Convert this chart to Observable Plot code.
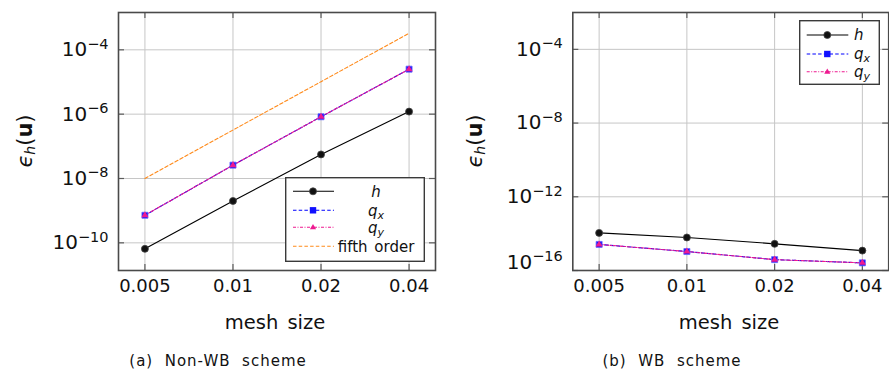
<!DOCTYPE html>
<html><head><meta charset="utf-8">
<script src="https://cdn.jsdelivr.net/npm/d3@7"></script>
<script src="https://cdn.jsdelivr.net/npm/@observablehq/plot@0.6"></script>
<style>
body{margin:0;background:#fff;font-family:"DejaVu Sans",sans-serif;}
#wrap{position:relative;width:889px;height:370px;overflow:hidden;background:#fff;}
.panel{position:absolute;top:0;}
.ylab{position:absolute;font-size:21px;transform:translate(-50%,-50%) rotate(-90deg);white-space:nowrap;color:#111;}
.xlab{position:absolute;font-size:19.5px;transform:translate(-50%,-50%);white-space:pre;word-spacing:3px;color:#111;}
.cap{position:absolute;font-size:15px;letter-spacing:1px;transform:translate(-50%,-50%);white-space:pre;color:#111;}
.legend{position:absolute;}
</style>
</head><body>
<div id="wrap"></div>
<script>
// ---------------- data ----------------
const meshSize = [0.005, 0.01, 0.02, 0.04];
const xTickLabels = ["0.005", "0.01", "0.02", "0.04"];

// (a) Non-WB scheme
const nonWB_h  = [6.5e-11, 2.0e-9, 5.6e-8, 1.2e-6];
const nonWB_qx = [7.2e-10, 2.6e-8, 8.3e-7, 2.5e-5];
const nonWB_qy = [7.2e-10, 2.6e-8, 8.3e-7, 2.5e-5];
const fifthOrder = [1.0e-8, 3.2e-7, 1.024e-5, 3.28e-4];

// (b) WB scheme
const WB_h  = [1.1e-14, 6.2e-15, 2.8e-15, 1.2e-15];
const WB_qx = [2.6e-15, 1.07e-15, 3.9e-16, 2.6e-16];
const WB_qy = [2.6e-15, 1.07e-15, 3.9e-16, 2.6e-16];

const yTicksA = [1e-10, 1e-8, 1e-6, 1e-4];
const yTickLabelsA = ["10^−10", "10^−8", "10^−6", "10^−4"];
const yTicksB = [1e-16, 1e-12, 1e-8, 1e-4];
const yTickLabelsB = ["10^−16", "10^−12", "10^−8", "10^−4"];

const seriesNames = ["h", "qx", "qy", "fifth order"];
const captions = ["(a)  Non-WB  scheme", "(b)  WB  scheme"];

// ---------------- styles ----------------
const styles = {
  "h":  {stroke: "#000000", dash: null, symbol: "circle", fill: "#111", r: 3.5},
  "qx": {stroke: "#0000ff", dash: "3.5,2.2", symbol: "square", fill: "#1010ff", r: 3.4},
  "qy": {stroke: "#ee1a90", dash: "3,1.5,1,1.5", symbol: "triangle", fill: "#ee1a90", r: 2.6},
  "fifth order": {stroke: "#ff8a1a", dash: "3.5,2.2", symbol: null}
};

const xDomain = [0.004061, 0.04925];
const H = 300, MT = 12, MB = 30;

function rows(vals, name) {
  return meshSize.map((x, i) => ({x, y: vals[i], series: name}));
}

function makePanel({width, marginLeft, marginRight, yDomain, yTicks, yTickLabels, data, bottomLabelShift}) {
  const fh = H - MT - MB;
  const fw = width - marginLeft - marginRight;
  const tickCol = "#5c5c5c";
  const marks = [
    Plot.gridX({ticks: meshSize, stroke: "#c6c6c6", strokeOpacity: 1, strokeWidth: 1}),
    Plot.gridY({ticks: yTicks, stroke: "#c6c6c6", strokeOpacity: 1, strokeWidth: 1}),
    Plot.ruleX(meshSize, {stroke: tickCol, strokeWidth: 1.2, insetTop: fh - 6}),
    Plot.ruleX(meshSize, {stroke: tickCol, strokeWidth: 1.2, insetBottom: fh - 6}),
    Plot.ruleY(yTicks, {stroke: tickCol, strokeWidth: 1.2, insetRight: fw - 6}),
    Plot.ruleY(yTicks, {stroke: tickCol, strokeWidth: 1.2, insetLeft: fw - 6})
  ];
  const order = ["fifth order", "h", "qx", "qy"];
  for (const name of order) {
    const d = data.filter(r => r.series === name);
    if (!d.length) continue;
    const s = styles[name];
    marks.push(Plot.line(d, {x: "x", y: "y", stroke: s.stroke, strokeWidth: 1.1,
      strokeDasharray: s.dash || undefined}));
  }
  for (const name of order) {
    const d = data.filter(r => r.series === name);
    if (!d.length) continue;
    const s = styles[name];
    if (!s.symbol) continue;
    marks.push(Plot.dot(d, {x: "x", y: "y", symbol: s.symbol, r: s.r, fill: s.fill,
      stroke: name === "h" ? "#444" : (name === "qx" ? "#6a6aff" : "none"), strokeWidth: 0.8}));
  }
  marks.push(Plot.frame({stroke: "#4a4a4a", strokeWidth: 1.6}));
  marks.push(Plot.axisX({ticks: meshSize, tickSize: 0, tickPadding: 9, fontSize: 18,
    tickFormat: d => xTickLabels[meshSize.indexOf(d)], label: null, fill: "#111"}));
  marks.push(Plot.axisY({ticks: yTicks, tickSize: 0, tickPadding: 10, fontSize: 20,
    tickFormat: d => yTickLabels[yTicks.indexOf(d)], label: null, fill: "#111"}));

  const svg = Plot.plot({
    width, height: H, marginLeft, marginRight, marginTop: MT, marginBottom: MB,
    style: {fontFamily: "DejaVu Sans", background: "transparent", overflow: "visible"},
    x: {type: "log", domain: xDomain},
    y: {type: "log", domain: yDomain},
    marks
  });
  const ns = "http://www.w3.org/2000/svg";
  svg.querySelectorAll('g[aria-label="y-axis tick label"] text').forEach(t => {
    const txt = t.textContent;
    const [base, exp] = txt.split("^");
    while (t.firstChild) t.removeChild(t.firstChild);
    const a = document.createElementNS(ns, "tspan");
    a.textContent = base;
    const b = document.createElementNS(ns, "tspan");
    b.textContent = exp;
    b.setAttribute("font-size", "14.5");
    b.setAttribute("dy", "-7.5");
    t.append(a, b);
    // the lowest label sits slightly raised above the frame bottom in the original
    if (bottomLabelShift && txt === yTickLabels[0]) {
      const tr = t.getAttribute("transform") || "";
      t.setAttribute("transform", `${tr} translate(0,${-bottomLabelShift})`.trim());
    }
  });
  return svg;
}

const wrap = document.getElementById("wrap");

const dataA = [...rows(nonWB_h, "h"), ...rows(nonWB_qx, "qx"), ...rows(nonWB_qy, "qy"), ...rows(fifthOrder, "fifth order")];
const dataB = [...rows(WB_h, "h"), ...rows(WB_qx, "qx"), ...rows(WB_qy, "qy")];

const pA = makePanel({width: 445, marginLeft: 118, marginRight: 10,
  yDomain: [Math.pow(10, -10.86), Math.pow(10, -2.84)], yTicks: yTicksA, yTickLabels: yTickLabelsA, data: dataA});
pA.classList.add("panel"); pA.style.left = "0px";
wrap.appendChild(pA);

const pB = makePanel({width: 439, marginLeft: 122.3, marginRight: 0.8,
  yDomain: [1e-16, 1e-2], yTicks: yTicksB, yTickLabels: yTickLabelsB, data: dataB, bottomLabelShift: 8});
pB.classList.add("panel"); pB.style.left = "450px";
wrap.appendChild(pB);

function addDiv(cls, html, x, y) {
  const d = document.createElement("div");
  d.className = cls; d.innerHTML = html;
  d.style.left = x + "px"; d.style.top = y + "px";
  wrap.appendChild(d);
}
const yLabelHTML = '<i>ϵ</i><sub style="font-size:14px;vertical-align:-3px"><i>h</i></sub>(<b>u</b>)';
addDiv("ylab", yLabelHTML, 25, 141);
addDiv("ylab", yLabelHTML, 475, 141);
addDiv("xlab", "mesh size", 275, 322);
addDiv("xlab", "mesh size", 729, 322);
addDiv("cap", captions[0], 218, 361);
addDiv("cap", captions[1], 672, 361);

function legendSVG(names, w, h, rowYs, lx0, lx1, mx, labelX, anchor) {
  let s = `<svg width="${w}" height="${h}" xmlns="http://www.w3.org/2000/svg" style="display:block;font-family:'DejaVu Sans'">`;
  s += `<rect x="0.7" y="0.7" width="${w - 1.4}" height="${h - 1.4}" fill="#fff" stroke="#3a3a3a" stroke-width="1.4"/>`;
  names.forEach((n, i) => {
    const st = styles[n], y = rowYs[i];
    s += `<line x1="${lx0}" x2="${lx1}" y1="${y}" y2="${y}" stroke="${st.stroke}" stroke-width="1.1" ${st.dash ? `stroke-dasharray="${st.dash}"` : ""}/>`;
    if (st.symbol === "circle") s += `<circle cx="${mx}" cy="${y}" r="3.5" fill="#111" stroke="#444" stroke-width="0.8"/>`;
    if (st.symbol === "square") s += `<rect x="${mx - 3.2}" y="${y - 3.2}" width="6.4" height="6.4" fill="${st.fill}"/>`;
    if (st.symbol === "triangle") s += `<path d="M${mx},${y - 3.3}L${mx + 3.1},${y + 2}L${mx - 3.1},${y + 2}Z" fill="${st.fill}"/>`;
    let lab;
    if (n === "h") lab = `<tspan font-style="italic">h</tspan>`;
    else if (n === "qx") lab = `<tspan font-style="italic">q</tspan><tspan font-style="italic" font-size="11" dy="3">x</tspan>`;
    else if (n === "qy") lab = `<tspan font-style="italic">q</tspan><tspan font-style="italic" font-size="11" dy="3">y</tspan>`;
    else lab = n;
    s += `<text x="${labelX}" y="${y}" dy="0.35em" font-size="15" text-anchor="${anchor}" fill="#111" word-spacing="2">${lab}</text>`;
  });
  s += `</svg>`;
  return s;
}
const lgA = document.createElement("div");
lgA.className = "legend"; lgA.style.left = "285px"; lgA.style.top = "177px";
lgA.innerHTML = legendSVG(seriesNames, 140, 85, [14.3, 33.3, 50.3, 69.3], 8, 49, 28, 91, "middle");
wrap.appendChild(lgA);

const lgB = document.createElement("div");
lgB.className = "legend"; lgB.style.left = "799px"; lgB.style.top = "20px";
lgB.innerHTML = legendSVG(seriesNames.slice(0, 3), 81, 65, [15, 34, 51.7], 7.7, 49.3, 28.3, 55, "start");
wrap.appendChild(lgB);
</script>
</body></html>
